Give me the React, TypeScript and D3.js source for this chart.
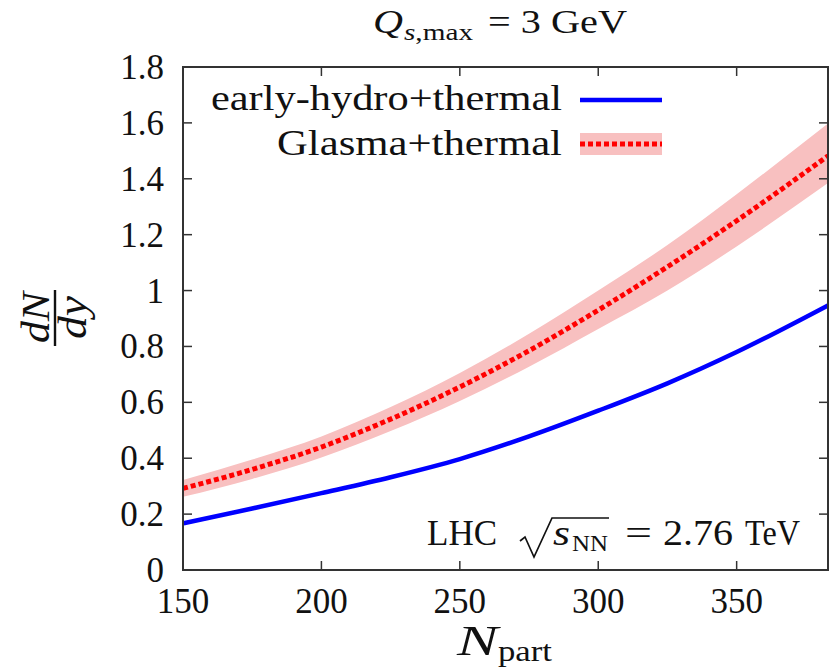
import React from "react";
import * as d3 from "d3";

const npart = [150, 175, 200, 225, 250, 275, 300, 325, 350, 383];
const earlyHydro = [0.167, 0.22, 0.275, 0.332, 0.397, 0.478, 0.57, 0.668, 0.78, 0.947];
const glasmaMid = [0.292, 0.36, 0.44, 0.54, 0.655, 0.785, 0.93, 1.085, 1.25, 1.482];
const glasmaUp = [0.322, 0.395, 0.478, 0.583, 0.705, 0.845, 1.0, 1.163, 1.345, 1.598];
const glasmaLo = [0.262, 0.326, 0.403, 0.497, 0.605, 0.727, 0.862, 1.0, 1.158, 1.385];
const xTicks = [150, 200, 250, 300, 350];
const yTicks = [0, 0.2, 0.4, 0.6, 0.8, 1, 1.2, 1.4, 1.6, 1.8];

const W = 834, H = 667;
const L = 183, R = 828, T = 67, B = 570;
const FONT = "'Liberation Serif', 'DejaVu Serif', serif";
const INK = "#111";

export default function App() {
  const x = d3.scaleLinear().domain([150, 383]).range([L, R]);
  const y = d3.scaleLinear().domain([0, 1.8]).range([B, T]);
  const idx = npart.map((_, i) => i);
  const line = (arr: number[]) =>
    d3.line<number>().x(i => x(npart[i])).y(i => y(arr[i])).curve(d3.curveMonotoneX)(idx) || "";
  const band = d3.area<number>()
    .x(i => x(npart[i])).y0(i => y(glasmaLo[i])).y1(i => y(glasmaUp[i]))
    .curve(d3.curveMonotoneX)(idx) || "";
  const tk = 9;
  const stretch = { lengthAdjust: "spacingAndGlyphs" as const };
  return (
    <svg width={W} height={H} style={{ position: "absolute", left: 0, top: 0, background: "#fff" }} fontFamily={FONT}>
      <defs>
        <clipPath id="plot"><rect x={L} y={T} width={R - L} height={B - T} /></clipPath>
      </defs>
      <g clipPath="url(#plot)">
        <path d={band} fill="#f8c0c0" />
        <path d={line(earlyHydro)} fill="none" stroke="#0000ff" strokeWidth={4.5} />
        <path d={line(glasmaMid)} fill="none" stroke="#ff0000" strokeWidth={5} strokeDasharray="5,3" />
      </g>
      {/* frame */}
      <rect x={L} y={T} width={R - L} height={B - T} fill="none" stroke="#333" strokeWidth={2} />
      {xTicks.map(v => (
        <g key={"x" + v}>
          <line x1={x(v)} x2={x(v)} y1={B} y2={B - tk} stroke="#333" strokeWidth={1.5} />
          <line x1={x(v)} x2={x(v)} y1={T} y2={T + tk} stroke="#333" strokeWidth={1.5} />
          <text x={x(v)} y={B + 43} fontSize={35} textAnchor="middle" fill={INK}>{v}</text>
        </g>
      ))}
      {yTicks.map(v => (
        <g key={"y" + v}>
          <line x1={L} x2={L + tk} y1={y(v)} y2={y(v)} stroke="#333" strokeWidth={1.5} />
          <line x1={R} x2={R - tk} y1={y(v)} y2={y(v)} stroke="#333" strokeWidth={1.5} />
          <text x={L - 19} y={y(v) + 12} fontSize={35} textAnchor="end" fill={INK}>{String(v)}</text>
        </g>
      ))}
      {/* legend */}
      <text x={211} y={110} fontSize={35} fill={INK} textLength={351} {...stretch}>early-hydro+thermal</text>
      <line x1={580} x2={662} y1={100} y2={100} stroke="#0000ff" strokeWidth={4.5} />
      <text x={277} y={155} fontSize={35} fill={INK} textLength={285} {...stretch}>Glasma+thermal</text>
      <rect x={580} y={133} width={82} height={22} fill="#f8c0c0" />
      <line x1={580} x2={662} y1={144} y2={144} stroke="#ff0000" strokeWidth={5} strokeDasharray="5,3" />
      {/* title */}
      <text x={373} y={33} fontSize={34} fontStyle="italic" fill={INK} textLength={30} {...stretch}>Q</text>
      <text x={404} y={40} fontSize={24} fill={INK} textLength={69} {...stretch}>
        <tspan fontStyle="italic">s</tspan>,max
      </text>
      <text x={488} y={33} fontSize={34} fill={INK} textLength={139} {...stretch}>= 3 GeV</text>
      {/* annotation */}
      <text x={427} y={545} fontSize={35} fill={INK} textLength={70} {...stretch}>LHC</text>
      <path d="M 520 541 L 525 537 L 534 557 L 552 518 L 609 518" fill="none" stroke={INK} strokeWidth={1.7} />
      <text x={553} y={545} fontSize={35} fontStyle="italic" fill={INK} textLength={17} {...stretch}>s</text>
      <text x={572} y={551} fontSize={24} fill={INK} textLength={36} {...stretch}>NN</text>
      <text x={625} y={545} fontSize={35} fill={INK} textLength={27} {...stretch}>=</text>
      <text x={663} y={545} fontSize={35} fill={INK} textLength={70} {...stretch}>2.76</text>
      <text x={745} y={545} fontSize={35} fill={INK} textLength={55} {...stretch}>TeV</text>
      {/* x label */}
      <text x={457} y={655} fontSize={42} fontStyle="italic" fill={INK} textLength={41} {...stretch}>N</text>
      <text x={498} y={661} fontSize={30} fill={INK} textLength={54} {...stretch}>part</text>
      {/* y label */}
      <g transform="translate(55,318) rotate(-90)">
        <text x={-25} y={-6} fontSize={40} fontStyle="italic" fill={INK} textLength={51} {...stretch}>dN</text>
        <line x1={-28} x2={28} y1={0} y2={0} stroke={INK} strokeWidth={2.4} />
        <text x={-21} y={31} fontSize={40} fontStyle="italic" fill={INK} textLength={43} {...stretch}>dy</text>
      </g>
    </svg>
  );
}
